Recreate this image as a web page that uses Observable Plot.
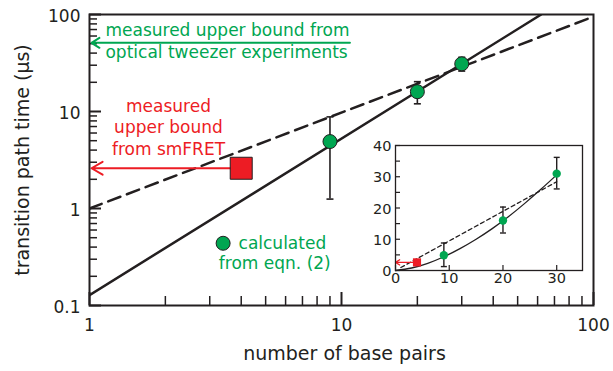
<!DOCTYPE html>
<html><head><meta charset="utf-8">
<script src="https://cdn.jsdelivr.net/npm/d3@7"></script>
<script src="https://cdn.jsdelivr.net/npm/@observablehq/plot@0.6"></script>
<style>
body{margin:0;background:#fff;}
#wrap{position:relative;width:613px;height:371px;overflow:hidden;}
#main{position:absolute;left:0;top:0;}
#inset{position:absolute;left:360px;top:137px;}
svg{font-family:"DejaVu Sans",sans-serif;}
</style></head><body><div id="wrap"><div id="main"></div><div id="inset"></div></div>
<script>
// ---- data ----
const basePairs = [9, 20, 30];
const pathTime = [4.9, 16, 31];
const errLow = [1.25, 12, 26.1];
const errHigh = [8.8, 20.3, 36.2];
const fretBp = [4];
const fretTime = [2.6];
const powerFitX = [1, 62];
const powerFitY = [0.128, 100];
const linearFitX = [1, 100];
const linearFitY = [1.0, 95];
const tweezerBound = 51;
const tweezerLineEnd = 10.8;
const insetCurveX = [0, 3, 6, 9, 12, 15, 18, 21, 24, 27, 30];
const insetCurveY = [0, 0.8, 2.3, 4.4, 7.0, 10.0, 13.4, 17.2, 21.4, 25.9, 30.6];
const insetDashX = [1, 30];
const insetDashY = [0.95, 28.4];

const xTicks = [1, 10, 100];
const xTickLabels = ["1", "10", "100"];
const yTicks = [0.1, 1, 10, 100];
const yTickLabels = ["0.1", "1", "10", "100"];
const xMinor = [2, 3, 4, 5, 6, 7, 8, 9, 20, 30, 40, 50, 60, 70, 80, 90];
const yMinor = [0.2, 0.3, 0.4, 0.5, 0.6, 0.7, 0.8, 0.9, 2, 3, 4, 5, 6, 7, 8, 9, 20, 30, 40, 50, 60, 70, 80, 90];
const insetXTicks = [0, 10, 20, 30];
const insetYTicks = [0, 10, 20, 30, 40];
const insetYMinor = [0, 5, 10, 15, 20, 25, 30, 35, 40];

const xTitle = "number of base pairs";
const yTitle = "transition path time (μs)";
const yTitlePos = [0.542, 3.162];
const tweezerLabel = ["measured upper bound from", "optical tweezer experiments"];
const tweezerLabelX = 1.157;
const tweezerLabelY = [69, 40.7];
const fretLabel = "measured\nupper bound\nfrom smFRET";
const fretLabelPos = [2.058, 7.0];
const legendDot = [3.39, 0.438];
const legendLabel = ["calculated", "from eqn. (2)"];
const legendLabelX = [3.903, 3.26];
const legendLabelY = [0.436, 0.27];

// ---- styling ----
const INK = "#231f20", GREEN = "#00a651", RED = "#ed1c24";
const points = basePairs.map((bp, i) => ({bp, t: pathTime[i], lo: errLow[i], hi: errHigh[i]}));
const capSymbol = {draw(ctx, size) { const w = Math.sqrt(size / Math.PI); ctx.moveTo(-w, 0); ctx.lineTo(w, 0); }};

const W = 613, H = 371, mL = 89, mR = 20, mT = 14, mB = 66;
const fw = W - mL - mR, fh = H - mT - mB;

const main = Plot.plot({
  width: W, height: H,
  marginLeft: mL, marginRight: mR, marginTop: mT, marginBottom: mB,
  x: {type: "log", domain: [1, 100]},
  y: {type: "log", domain: [0.1, 100]},
  style: {fontFamily: "DejaVu Sans, sans-serif", fontSize: "17px", color: INK, background: "white"},
  marks: [
    Plot.tickX(xMinor, {x: d => d, insetTop: fh - 9, stroke: INK, strokeWidth: 1.5}),
    Plot.tickX(xTicks, {x: d => d, insetTop: fh - 13, stroke: INK, strokeWidth: 2}),
    Plot.tickY(yMinor, {y: d => d, insetRight: fw - 8, stroke: INK, strokeWidth: 1.5}),
    Plot.tickY(yTicks, {y: d => d, insetRight: fw - 12, stroke: INK, strokeWidth: 2}),
    Plot.line(linearFitX.map((x, i) => [x, linearFitY[i]]), {x: "0", y: "1", stroke: INK, strokeWidth: 2.5, strokeDasharray: "13,7", clip: true}),
    Plot.line(powerFitX.map((x, i) => [x, powerFitY[i]]), {x: "0", y: "1", stroke: INK, strokeWidth: 2.5, clip: true}),
    Plot.ruleX(points, {x: "bp", y1: "lo", y2: "hi", stroke: INK, strokeWidth: 1.6}),
    Plot.dot(points, {x: "bp", y: "lo", symbol: capSymbol, r: 3.5, fill: "none", stroke: INK, strokeWidth: 1.6}),
    Plot.dot(points, {x: "bp", y: "hi", symbol: capSymbol, r: 3.5, fill: "none", stroke: INK, strokeWidth: 1.6}),
    Plot.dot(points, {x: "bp", y: "t", r: 7, fill: GREEN, stroke: INK, strokeWidth: 1}),
    Plot.arrow(fretBp, {x1: d => d, x2: () => 1, y1: (d, i) => fretTime[i], y2: (d, i) => fretTime[i], stroke: RED, strokeWidth: 2, headLength: 9.6, headAngle: 60, insetEnd: 2}),
    Plot.dot(fretBp, {x: d => d, y: (d, i) => fretTime[i], symbol: "square", r: 12.4, fill: RED, stroke: INK, strokeWidth: 1}),
    Plot.arrow([tweezerBound], {x1: () => tweezerLineEnd, x2: () => 1, y1: d => d, y2: d => d, stroke: GREEN, strokeWidth: 2, headLength: 7, headAngle: 64, insetEnd: 2}),
    Plot.text(tweezerLabel, {x: () => tweezerLabelX, y: (d, i) => tweezerLabelY[i], text: d => d, textAnchor: "start", fill: GREEN, fontSize: 17}),
    Plot.text([fretLabel], {x: () => fretLabelPos[0], y: () => fretLabelPos[1], text: d => d, lineHeight: 1.265, fill: RED, fontSize: 17}),
    Plot.dot([legendDot], {x: "0", y: "1", r: 7, fill: GREEN, stroke: INK, strokeWidth: 1}),
    Plot.text(legendLabel, {x: (d, i) => legendLabelX[i], y: (d, i) => legendLabelY[i], text: d => d, textAnchor: "start", fill: GREEN, fontSize: 17}),
    Plot.frame({stroke: INK, strokeWidth: 2}),
    Plot.axisX({ticks: xTicks, tickSize: 0, tickPadding: 13, tickFormat: d => xTickLabels[xTicks.indexOf(d)], label: null, fontSize: 17, fill: INK}),
    Plot.axisY({ticks: yTicks, tickSize: 0, tickPadding: 9, dy: 2, tickFormat: d => yTickLabels[yTicks.indexOf(d)], label: null, fontSize: 17, fill: INK}),
    Plot.text([xTitle], {frameAnchor: "bottom", dy: 54, dx: 3, text: d => d, fontSize: 19, fill: INK}),
    Plot.text([yTitle], {x: () => yTitlePos[0], y: () => yTitlePos[1], rotate: -90, text: d => d, fontSize: 19, fill: INK})
  ]
});
document.getElementById("main").appendChild(main);

// ---- inset ----
const iW = 227, iH = 153, imL = 35, imR = 5, imT = 8, imB = 20;
const ifw = iW - imL - imR, ifh = iH - imT - imB;
const inset = Plot.plot({
  width: iW, height: iH,
  marginLeft: imL, marginRight: imR, marginTop: imT, marginBottom: imB,
  x: {domain: [0, 34.8]},
  y: {domain: [0, 40]},
  style: {fontFamily: "DejaVu Sans, sans-serif", fontSize: "14.5px", color: INK, background: "transparent"},
  marks: [
    Plot.frame({fill: "white"}),
    Plot.tickX(insetXTicks, {x: d => d, insetTop: ifh - 5, stroke: INK, strokeWidth: 1.2}),
    Plot.tickY(insetYMinor, {y: d => d, insetRight: ifw - 5, stroke: INK, strokeWidth: 1.2}),
    Plot.line(insetDashX.map((x, i) => [x, insetDashY[i]]), {x: "0", y: "1", stroke: INK, strokeWidth: 1.3, strokeDasharray: "4,3"}),
    Plot.line(insetCurveX.map((x, i) => [x, insetCurveY[i]]), {x: "0", y: "1", stroke: INK, strokeWidth: 1.3, curve: "natural"}),
    Plot.ruleX(points, {x: "bp", y1: "lo", y2: "hi", stroke: INK, strokeWidth: 1.4}),
    Plot.dot(points, {x: "bp", y: "lo", symbol: capSymbol, r: 3, fill: "none", stroke: INK, strokeWidth: 1.4}),
    Plot.dot(points, {x: "bp", y: "hi", symbol: capSymbol, r: 3, fill: "none", stroke: INK, strokeWidth: 1.4}),
    Plot.dot(points, {x: "bp", y: "t", r: 4.2, fill: GREEN}),
    Plot.arrow(fretBp, {x1: d => d, x2: () => 0, y1: (d, i) => fretTime[i], y2: (d, i) => fretTime[i], stroke: RED, strokeWidth: 1.2, headLength: 6.2, headAngle: 64, insetEnd: 0}),
    Plot.dot(fretBp, {x: d => d, y: (d, i) => fretTime[i], symbol: "square", r: 4.6, fill: RED}),
    Plot.frame({stroke: INK, strokeWidth: 1.3}),
    Plot.axisX({ticks: insetXTicks, tickSize: 0, tickPadding: 2, label: null, fontSize: 14.5, fill: INK}),
    Plot.axisY({ticks: insetYTicks, tickSize: 0, tickPadding: 4, dy: 1, label: null, fontSize: 14.5, fill: INK})
  ]
});
document.getElementById("inset").appendChild(inset);
</script>
</body></html>
